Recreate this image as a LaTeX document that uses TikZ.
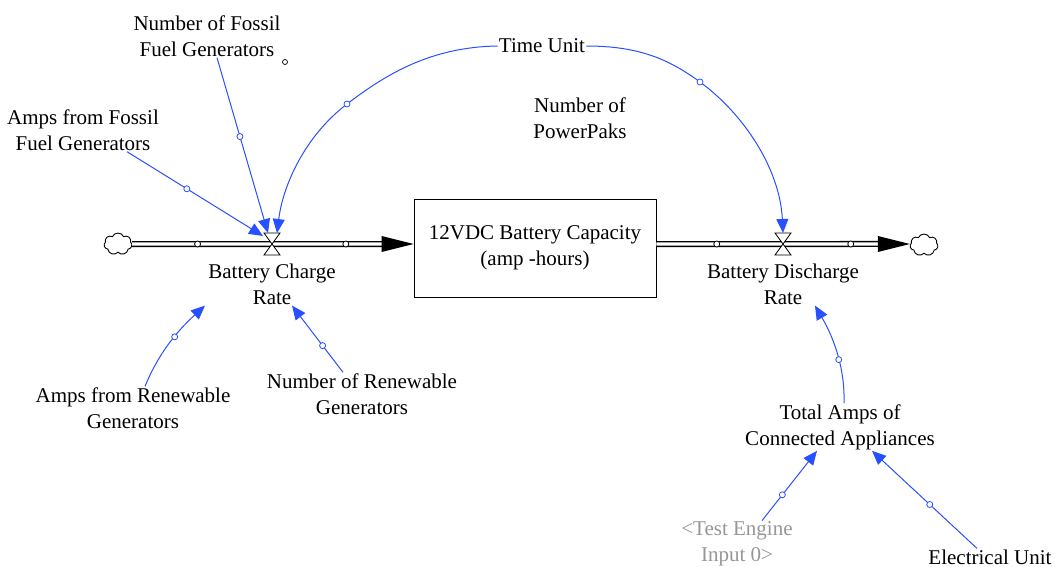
\documentclass[tikz,border=0pt]{standalone}
\usepackage{fontspec}
\setmainfont{Liberation Serif}
\newfontfamily\diagfont{Liberation Serif}
\usetikzlibrary{arrows.meta,shapes.symbols}
\definecolor{linkblue}{RGB}{40,80,255}
\definecolor{shadowgray}{RGB}{150,150,150}
\begin{document}
\begin{tikzpicture}[x=1pt,y=-1pt,
  lbl/.style={font=\diagfont\fontsize{21}{26}\selectfont, align=center, inner sep=1pt},
  link/.style={draw=linkblue, line width=1pt, -{Triangle[length=14pt,width=12pt]}},
  hc/.style={circle, draw=linkblue, fill=white, line width=0.8pt, minimum size=6pt, inner sep=0pt},
  pc/.style={circle, draw=black, fill=white, line width=0.8pt, minimum size=6pt, inner sep=0pt},
  pipe/.style={draw=black, line width=1.4pt, double=white, double distance=3.2pt},
  cloudnode/.style={cloud, cloud puffs=7, cloud puff arc=130, draw, fill=white, line width=0.9pt, minimum width=28pt, minimum height=22pt, inner sep=0pt},
  valvestyle/.style={fill=white, draw=black, line width=0.8pt}
]
\useasboundingbox (0,0) rectangle (1055,567);

% nodes
\node[lbl] (nff) at (207,36) {Number of Fossil\\Fuel Generators};
\node[lbl] (aff) at (83,130) {Amps from Fossil\\Fuel Generators};
\node[lbl] (bcr) at (272,284) {Battery Charge\\Rate};
\node[lbl, draw, line width=0.9pt, minimum width=242pt, minimum height=98pt] (stock) at (535,248) {12VDC Battery Capacity\\(amp -hours)};
\node[lbl] (bdr) at (783,284) {Battery Discharge\\Rate};
\node[lbl] (tu) at (542,46) {Time Unit};
\node[lbl] (npp) at (580,118) {Number of\\PowerPaks};
\node[lbl] (arg) at (133,408) {Amps from Renewable\\Generators};
\node[lbl] (nrg) at (362,394) {Number of Renewable\\Generators};
\node[lbl] (tac) at (840,427) {Total Amps of\\Connected Appliances};
\node[lbl, text=shadowgray] (te) at (737,544) {<Test Engine\\Input 0>};
\node[lbl] (eu) at (990,557) {Electrical Unit};
\node[circle, draw, line width=0.7pt, minimum size=5pt, inner sep=0pt] (mark) at (285,62) {};

\node[cloudnode] (cloudL) at (118,244) {};
\node[cloudnode] (cloudR) at (924,245) {};

\coordinate (vL) at (272,244);
\coordinate (vR) at (783,244);

% pipes
\draw[pipe] ([yshift=0pt]cloudL.east) -- node[pc,pos=0.26]{} node[pc,pos=0.85]{} ([xshift=-30pt,yshift=4pt]stock.west);
\fill ([xshift=-32pt,yshift=12pt]stock.west) -- ([yshift=4pt]stock.west) -- ([xshift=-32pt,yshift=-4pt]stock.west) -- cycle;
\draw[pipe] ([yshift=4pt]stock.east) -- node[pc,pos=0.27]{} node[pc,pos=0.87]{} ([xshift=-30pt,yshift=1pt]cloudR.west);
\fill ([xshift=-32pt,yshift=9pt]cloudR.west) -- ([yshift=1pt]cloudR.west) -- ([xshift=-32pt,yshift=-7pt]cloudR.west) -- cycle;

% valves
\foreach \v in {vL,vR}{
  \filldraw[valvestyle] ([shift={(-8,-11)}]\v) -- ([shift={(8,-11)}]\v) -- (\v) -- cycle;
  \filldraw[valvestyle] ([shift={(-8,11)}]\v) -- ([shift={(8,11)}]\v) -- (\v) -- cycle;
}

% links into charge rate
\draw[link] ([xshift=10pt]nff.south) -- node[hc,pos=0.45]{} ([shift={(-4,-11)}]vL);
\draw[link] ([xshift=44pt]aff.south) -- node[hc,pos=0.44]{} ([shift={(-9,-8)}]vL);
\draw[link] (tu.west) .. controls (430,47) and (385,75) .. (347,104) node[hc]{}
  .. controls (305,136) and (283,185) .. ([shift={(5,-11)}]vL);
\draw[link] (tu.east) .. controls (640,46) and (670,60) .. (700,82) node[hc]{}
  .. controls (745,115) and (780,170) .. ([shift={(0,-11)}]vR);
\draw[link] ([xshift=12pt]arg.north) .. controls (158,355) and (175,333) .. node[hc,pos=0.6]{} ([xshift=-67pt]bcr.south);
\draw[link] ([xshift=-19pt]nrg.north) -- node[hc,pos=0.4]{} ([xshift=20pt]bcr.south);

% links into discharge side
\draw[link] ([xshift=4pt]tac.north) .. controls (845,370) and (835,340) .. node[hc,pos=0.45]{} ([xshift=32pt]bdr.south);
\draw[link] ([xshift=25pt]te.north) -- node[hc,pos=0.37]{} ([xshift=-23pt]tac.south);
\draw[link] ([xshift=-13pt]eu.north) -- node[hc,pos=0.45]{} ([xshift=32pt]tac.south);
\end{tikzpicture}
\end{document}
